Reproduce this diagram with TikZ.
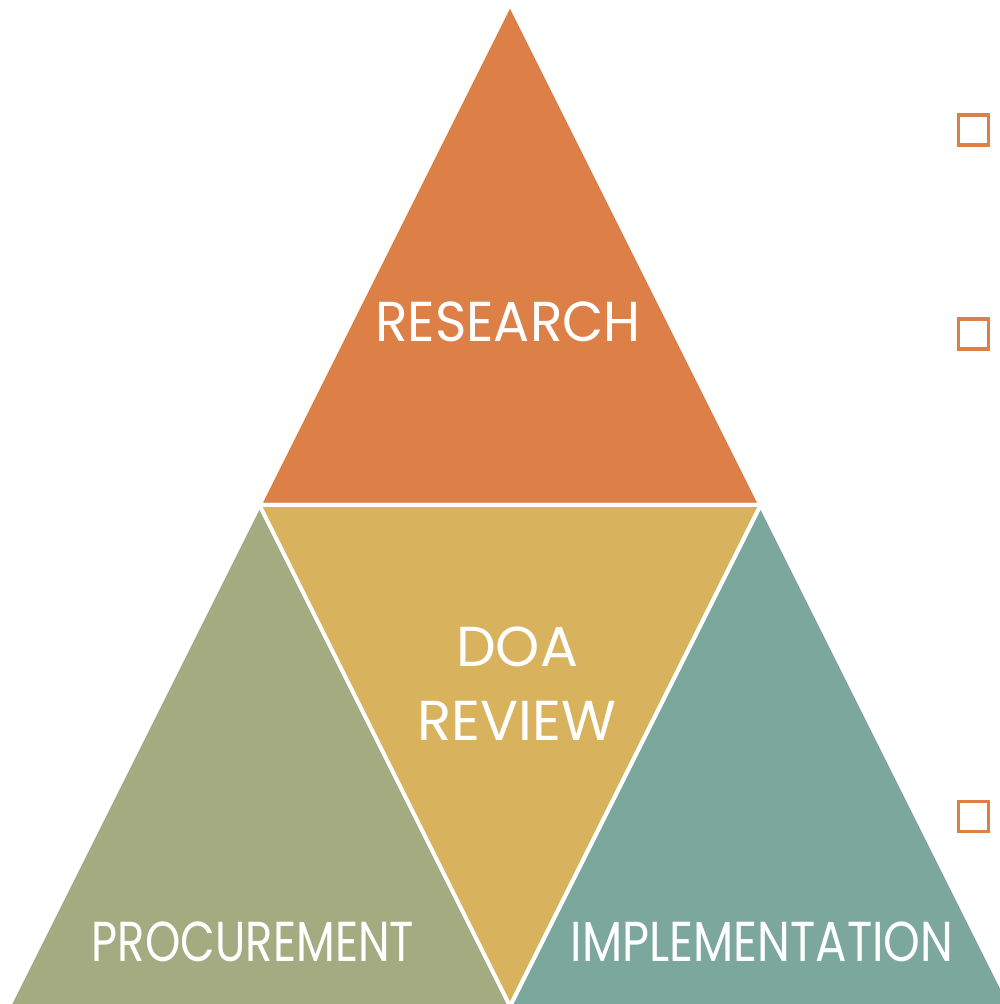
\documentclass[tikz,border=0pt]{standalone}
\usepackage{fontspec}
\setmainfont{Poppins}
\definecolor{resorange}{HTML}{DD8047}
\definecolor{doagold}{HTML}{D8B25C}
\definecolor{procolive}{HTML}{A5AB81}
\definecolor{implteal}{HTML}{7BA79D}

\begin{document}
\begin{tikzpicture}[
      x=0.01cm, y=-0.01cm,
      part/.style={draw=white, line width=0.04cm, line join=miter},
      label/.style={text=white, font=\fontsize{16}{21}\selectfont, align=center, inner sep=0pt},
      bullet/.style={draw=resorange, line width=0.033cm, minimum size=0.3cm, inner sep=0pt}
    ]
    \useasboundingbox (0,0) rectangle (999,1004);
    % Corners of the big triangle and the middles of its sides.
    \coordinate (apex) at (510,4);
    \coordinate (lb) at (9,1006);
    \coordinate (rb) at (1011,1006);
    \coordinate (lm) at (259.5,505);
    \coordinate (rm) at (760.5,505);
    \coordinate (bm) at (510,1006);
    % Draw the four parts.
    \draw[part, fill=resorange] (apex) -- (lm) -- (rm) -- cycle;
    \draw[part, fill=procolive] (lm) -- (lb) -- (bm) -- cycle;
    \draw[part, fill=implteal] (rm) -- (bm) -- (rb) -- cycle;
    \draw[part, fill=doagold] (lm) -- (rm) -- (bm) -- cycle;
    % Write the labels.
    \node[label, xscale=0.95] (research) at (508,322) {RESEARCH};
    \node[label] (doa) at (517,684) {DOA\\REVIEW};
    \node[label, xscale=0.8] (procurement) at (253,942) {PROCUREMENT};
    \node[label, xscale=0.83] (implementation) at (762,942) {IMPLEMENTATION};
    % Draw the bullets on the right.
    \node[bullet] (b1) at (973.5,130) {};
    \node[bullet] (b2) at (973.5,334) {};
    \node[bullet] (b3) at (973.5,816.5) {};
    \end{tikzpicture}
\end{document}
